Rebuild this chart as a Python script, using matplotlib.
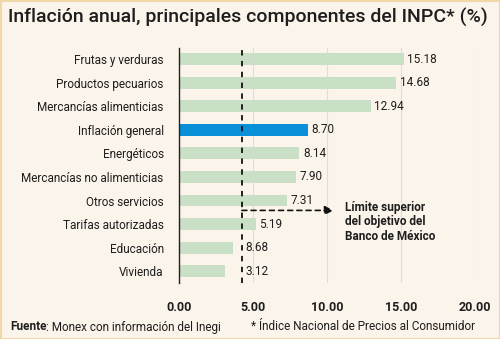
import matplotlib
matplotlib.use("Agg")
import matplotlib.pyplot as plt
from matplotlib.patches import Rectangle

categories = ["Frutas y verduras", "Productos pecuarios", "Mercancías alimenticias",
              "Inflación general", "Energéticos", "Mercancías no alimenticias",
              "Otros servicios", "Tarifas autorizadas", "Educación", "Vivienda"]
values = [15.18, 14.68, 12.94, 8.70, 8.14, 7.90, 7.31, 5.19, 3.68, 3.12]
value_labels = ["15.18", "14.68", "12.94", "8.70", "8.14", "7.90", "7.31", "5.19", "8.68", "3.12"]
highlight = "Inflación general"
limit_value = 4.25
xticks = [0, 5, 10, 15, 20]
xtick_labels = ["0.00", "5.00", "10.00", "15.00", "20.00"]

BG = "#fbf4ea"
GREEN = "#c9dfc6"
BLUE = "#0a8fd9"
TXT = "#1e1e1e"
FONT = "Roboto"

W, H = 500, 339
fig = plt.figure(figsize=(W / 100, H / 100), dpi=100, facecolor=BG)

# thin tan border
fig.patches.append(Rectangle((0.5 / W, 0), 1 - 1.0 / W, 1 - 0.5 / H, transform=fig.transFigure,
                             fill=False, edgecolor="#f0d6a8", linewidth=1.5))

left_px, right_px = 179, 475
top_px, bot_px = 48, 283
ax = fig.add_axes([left_px / W, 1 - bot_px / H, (right_px - left_px) / W, (bot_px - top_px) / H])
ax.set_facecolor(BG)
ax.set_xlim(0, 20)
ax.set_ylim(9.5, -0.47)

ypos = list(range(len(categories)))
colors = [BLUE if c == highlight else GREEN for c in categories]
ax.barh(ypos, values, height=0.5, color=colors, zorder=2)

for y, v, lab in zip(ypos, values, value_labels):
    ax.text(max(v, limit_value) + 0.25, y, lab, va="center", ha="left", fontsize=8.5,
            family=FONT, color=TXT, zorder=4)

ax.set_yticks(ypos)
ax.set_yticklabels(categories, fontsize=8.5, family=FONT, color=TXT)
ax.tick_params(axis="y", length=0, pad=11)

ax.set_xticks(xticks)
ax.set_xticklabels(xtick_labels, fontsize=9, family=FONT, fontweight="bold", color=TXT)
ax.tick_params(axis="x", length=0, pad=13)
for t in xticks[1:]:
    ax.axvline(t, color="#e6dccb", linewidth=0.8, zorder=1)

for s in ["top", "right", "bottom"]:
    ax.spines[s].set_visible(False)
ax.spines["left"].set_color("#222222")
ax.spines["left"].set_linewidth(1.0)
ax.spines["left"].set_zorder(3)

ax.axvline(limit_value, color="#111111", linewidth=1.3, linestyle=(0, (3, 3)), zorder=3)

# arrow
ax.annotate("", xy=(10.45, 6.42), xytext=(limit_value, 6.42),
            arrowprops=dict(arrowstyle="-|>", linestyle=(0, (3, 2.5)), color="#111111",
                            linewidth=1.2, mutation_scale=13, shrinkA=0, shrinkB=0),
            zorder=4)
ax.text(11.2, 6.0, "Límite superior\ndel objetivo del\nBanco de México", ha="left", va="top",
        fontsize=8.5, family=FONT, fontweight="bold", color=TXT, linespacing=1.15)

# title
fig.text(8 / W, 1 - 17 / H, "Inflación anual, principales componentes del INPC* (%)",
         ha="left", va="center", fontsize=14, family=FONT, fontweight="medium", color=TXT)

# footer
t1 = fig.text(10 / W, 1 - 327 / H, "Fuente", ha="left", va="center", fontsize=8.5,
              family=FONT, fontweight="bold", color=TXT)
fig.canvas.draw()
bb = t1.get_window_extent()
fig.text(bb.x1 / W, 1 - 327 / H, ": Monex con información del Inegi", ha="left", va="center",
         fontsize=8.5, family=FONT, color=TXT)
fig.text(475 / W, 1 - 327 / H, "* Índice Nacional de Precios al Consumidor", ha="right",
         va="center", fontsize=8.5, family=FONT, color=TXT)

fig.savefig("out.png", dpi=100, facecolor=BG)
